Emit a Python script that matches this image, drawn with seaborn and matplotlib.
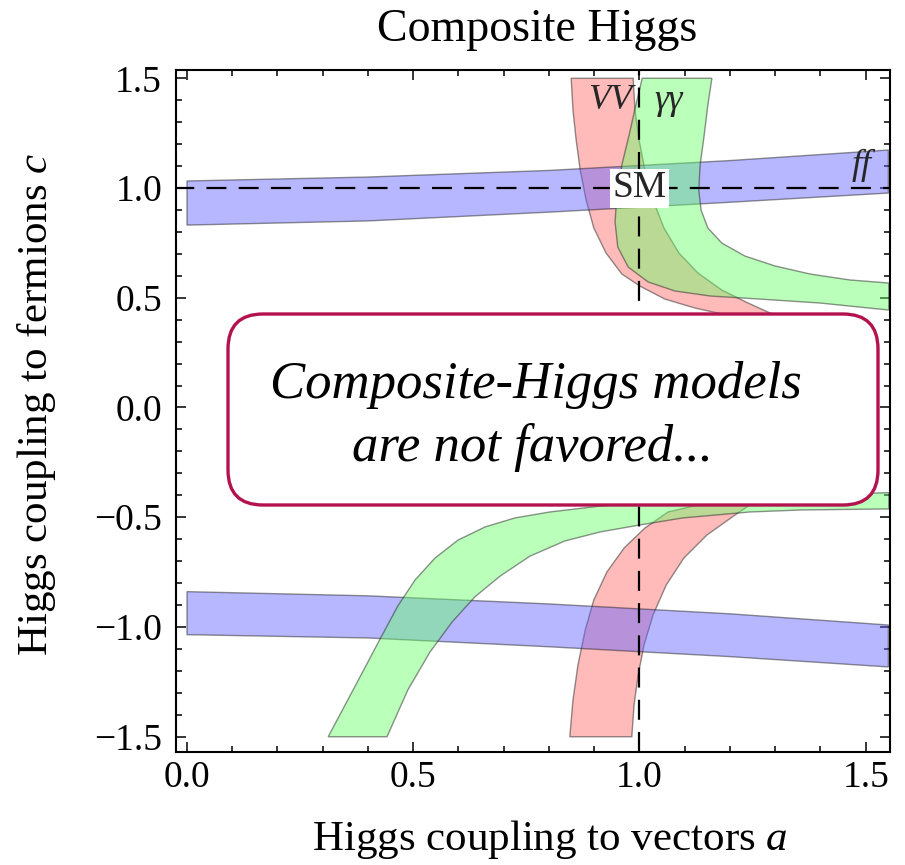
import matplotlib
matplotlib.use("Agg")
import matplotlib.pyplot as plt
import seaborn as sns
from matplotlib.patches import FancyBboxPatch
from matplotlib.ticker import MultipleLocator, FuncFormatter

sns.set_theme(style="ticks")
plt.rcParams["font.family"] = ["Liberation Serif", "DejaVu Serif"]
plt.rcParams["mathtext.fontset"] = "custom"
plt.rcParams["mathtext.rm"] = "Liberation Serif"
plt.rcParams["mathtext.it"] = "Liberation Serif:italic"

# ---- fermion (ff) bands: c range versus a ----
ff_a = [0.0, 0.4, 0.8, 1.2, 1.55]
ff_pos_hi = [1.032, 1.050, 1.080, 1.125, 1.173]
ff_pos_lo = [0.831, 0.850, 0.890, 0.935, 0.977]
ff_neg_hi = [-0.839, -0.858, -0.895, -0.940, -0.991]
ff_neg_lo = [-1.035, -1.050, -1.090, -1.135, -1.182]

# ---- VV bands: two edges each, (a, c) points ----
vv_pos_in_a = [0.849, 0.853, 0.860, 0.869, 0.882, 0.899, 0.926, 0.961, 1.001, 1.056, 1.123, 1.182, 1.30, 1.42]
vv_pos_in_c = [1.50, 1.355, 1.219, 1.082, 0.945, 0.818, 0.704, 0.608, 0.553, 0.494, 0.453, 0.426, 0.39, 0.36]
vv_pos_out_a = [0.986, 0.990, 0.999, 1.012, 1.030, 1.054, 1.087, 1.129, 1.182, 1.240, 1.288, 1.35, 1.42]
vv_pos_out_c = [1.50, 1.355, 1.219, 1.082, 0.945, 0.818, 0.704, 0.613, 0.535, 0.476, 0.431, 0.40, 0.38]

vv_neg_in_a = [0.846, 0.853, 0.864, 0.880, 0.899, 0.928, 0.966, 1.012, 1.063, 1.20, 1.35]
vv_neg_in_c = [-1.50, -1.333, -1.173, -1.014, -0.877, -0.749, -0.640, -0.549, -0.476, -0.41, -0.38]
vv_neg_out_a = [0.983, 0.988, 0.997, 1.010, 1.030, 1.059, 1.098, 1.149, 1.211, 1.244, 1.32, 1.40]
vv_neg_out_c = [-1.50, -1.355, -1.219, -1.082, -0.945, -0.809, -0.686, -0.581, -0.490, -0.444, -0.41, -0.40]

# ---- diphoton bands ----
gg_pos_in_a = [1.006, 0.992, 0.977, 0.961, 0.950, 0.946, 0.952, 0.975, 1.019, 1.078, 1.156, 1.266, 1.399, 1.551]
gg_pos_in_c = [1.50, 1.378, 1.241, 1.105, 0.968, 0.845, 0.731, 0.640, 0.572, 0.531, 0.508, 0.494, 0.476, 0.444]
gg_pos_out_a = [1.160, 1.151, 1.143, 1.134, 1.131, 1.136, 1.151, 1.182, 1.233, 1.299, 1.377, 1.465, 1.551]
gg_pos_out_c = [1.50, 1.378, 1.241, 1.105, 0.991, 0.900, 0.818, 0.749, 0.690, 0.645, 0.608, 0.581, 0.567]

gg_neg_out_a = [0.312, 0.367, 0.422, 0.466, 0.504, 0.548, 0.599, 0.659, 0.725, 0.802, 0.913, 1.00, 1.20, 1.40, 1.551]
gg_neg_out_c = [-1.50, -1.287, -1.073, -0.904, -0.786, -0.686, -0.604, -0.544, -0.503, -0.476, -0.449, -0.435, -0.412, -0.397, -0.388]
gg_neg_in_a = [0.442, 0.488, 0.537, 0.586, 0.636, 0.692, 0.758, 0.835, 0.913, 1.001, 1.096, 1.244, 1.355, 1.551]
gg_neg_in_c = [-1.50, -1.287, -1.114, -0.977, -0.863, -0.768, -0.677, -0.608, -0.567, -0.535, -0.503, -0.476, -0.467, -0.462]

x_ticks = [0.0, 0.5, 1.0, 1.5]
y_ticks = [-1.5, -1.0, -0.5, 0.0, 0.5, 1.0, 1.5]
sm_point = (1.0, 1.0)

RED = (1.0, 0.40, 0.40)
GREEN = (0.40, 1.0, 0.40)
BLUE = (0.38, 0.38, 1.0)
ALPHA = 0.45


def band_from_edges(ax, a1, c1, a2, c2, color):
    xs = list(a1) + list(a2)[::-1]
    ys = list(c1) + list(c2)[::-1]
    ax.fill(xs, ys, facecolor=(*color, ALPHA), edgecolor=(0.15, 0.15, 0.15, 0.5),
            linewidth=1.0, zorder=2)


def minus_fmt(v, pos):
    return f"{v:.1f}".replace("-", "\u2212")


fig = plt.figure(figsize=(9.05, 8.65), dpi=100)
ax = fig.add_axes([176 / 905, 1 - 752 / 865, 714 / 905, 682 / 865])

# VV first, fermions over it, diphoton on top
band_from_edges(ax, vv_pos_in_a, vv_pos_in_c, vv_pos_out_a, vv_pos_out_c, RED)
band_from_edges(ax, vv_neg_in_a, vv_neg_in_c, vv_neg_out_a, vv_neg_out_c, RED)
band_from_edges(ax, ff_a, ff_pos_hi, ff_a, ff_pos_lo, BLUE)
band_from_edges(ax, ff_a, ff_neg_hi, ff_a, ff_neg_lo, BLUE)
band_from_edges(ax, gg_pos_in_a, gg_pos_in_c, gg_pos_out_a, gg_pos_out_c, GREEN)
band_from_edges(ax, gg_neg_out_a, gg_neg_out_c, gg_neg_in_a, gg_neg_in_c, GREEN)

# Standard Model reference lines
sns.lineplot(x=[-0.1, 1.7], y=[sm_point[1]] * 2, ax=ax, color="black", lw=1.6,
             zorder=3).lines[-1].set_dashes((9, 5.5))
ax.axvline(sm_point[0], color="black", lw=1.6, dashes=(9, 5.5), zorder=3)

ax.text(sm_point[0], sm_point[1], "SM", ha="center", va="center", fontsize=27,
        zorder=5, bbox=dict(facecolor="white", edgecolor="none", pad=1.5))
ax.text(0.935, 1.40, "VV", ha="center", va="center", fontsize=26, style="italic", zorder=5)
ax.text(1.065, 1.40, "γγ", ha="center", va="center", fontsize=26, style="italic", zorder=5)
ax.text(1.49, 1.105, "ff", ha="center", va="center", fontsize=26, style="italic", zorder=5)

ax.set_xlim(-0.0243, 1.5536)
ax.set_ylim(-1.5695, 1.5376)
ax.set_xticks(x_ticks)
ax.set_yticks(y_ticks)
ax.xaxis.set_minor_locator(MultipleLocator(0.1))
ax.yaxis.set_minor_locator(MultipleLocator(0.1))
ax.xaxis.set_major_formatter(FuncFormatter(minus_fmt))
ax.yaxis.set_major_formatter(FuncFormatter(minus_fmt))
ax.tick_params(which="both", direction="in", top=True, right=True, color="black",
               width=1.1, labelsize=27, labelcolor="black")
ax.tick_params(axis="x", which="both", pad=6)
ax.tick_params(axis="y", which="both", pad=10)
ax.tick_params(which="major", length=7)
ax.tick_params(which="minor", length=4.3)
for sp in ax.spines.values():
    sp.set_color("black")
    sp.set_linewidth(1.5)
ax.set_facecolor("white")

ax.set_xlabel("Higgs coupling to vectors $a$", fontsize=31, color="black")
ax.set_ylabel("Higgs coupling to fermions $c$", fontsize=31, color="black")
ax.xaxis.set_label_coords(0.524, -0.097)
ax.yaxis.set_label_coords(-0.165, 0.51)

fig.text(537 / 905, 1 - 30 / 865, "Composite Higgs", ha="center", va="center",
         fontsize=33, color="black")

# annotation box
box = FancyBboxPatch((228 / 905, 1 - 505 / 865), 650 / 905, 191 / 865,
                     boxstyle="round,pad=0,rounding_size=0.0387",
                     mutation_aspect=1.046, transform=fig.transFigure,
                     facecolor="white", edgecolor="#B3124F", linewidth=2.4, zorder=10)
fig.add_artist(box)
fig.text(536 / 905, 1 - 385 / 865, "Composite-Higgs models", ha="center", va="center",
         fontsize=38, style="italic", color="black", zorder=11)
fig.text(532 / 905, 1 - 447 / 865, "are not favored...", ha="center", va="center",
         fontsize=38, style="italic", color="black", zorder=11)

fig.savefig("out.png", dpi=100, facecolor="white")
